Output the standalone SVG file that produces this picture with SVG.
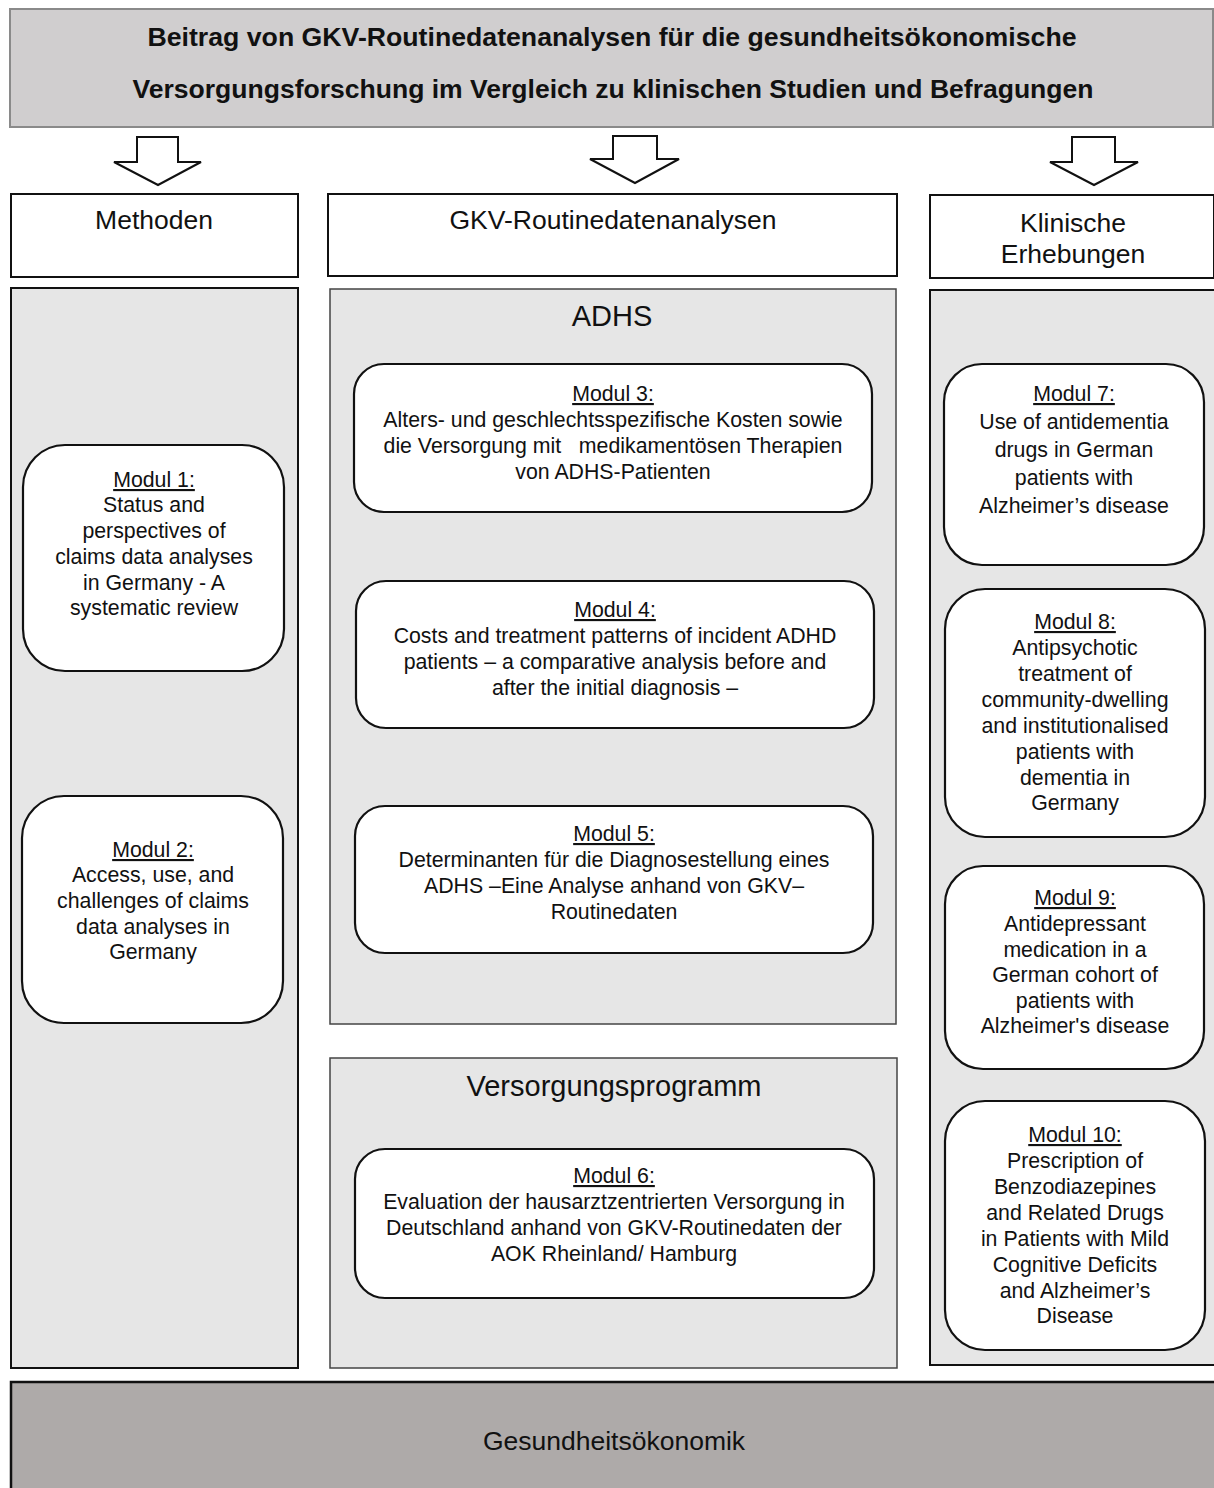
<svg xmlns="http://www.w3.org/2000/svg" width="1214" height="1488" viewBox="0 0 1214 1488">
<style>
text{font-family:"Liberation Sans",Arial,Helvetica,sans-serif;fill:#111;text-anchor:middle}
.title{font-size:25px;font-weight:bold}
.hdr{font-size:26.5px}
.sec{font-size:29px}
.mod{font-size:21.3px}
.u{text-decoration:underline}
.hbox{fill:#fff;stroke:#111;stroke-width:2}
.panel{fill:#e6e6e6;stroke:#111;stroke-width:2}
.panel2{fill:#e6e6e6;stroke:#444;stroke-width:1.5}
.card{fill:#fff;stroke:#111;stroke-width:2.2}
.arrow{fill:#fff;stroke:#111;stroke-width:2}
</style>
<rect width="1214" height="1488" fill="#fff"/>
<g id="title">
<rect x="10" y="9" width="1203" height="118" fill="#d0cecf" stroke="#8a8a8a" stroke-width="2"/>
<text class="title" x="612" y="46" textLength="929" lengthAdjust="spacingAndGlyphs">Beitrag von GKV-Routinedatenanalysen für die gesundheitsökonomische</text>
<text class="title" x="613" y="98" textLength="961" lengthAdjust="spacingAndGlyphs">Versorgungsforschung im Vergleich zu klinischen Studien und Befragungen</text>
</g>
<g id="connectors">
<polygon class="arrow" points="137,137 178,137 178,162 201,162 158,185 114,162 137,162"/>
<polygon class="arrow" points="613,136 657,136 657,159 679,159 635,183 590,159 613,159"/>
<polygon class="arrow" points="1072,137 1115,137 1115,162 1138,162 1094,185 1050,162 1072,162"/>
</g>
<g id="hdr-methoden">
<rect class="hbox" x="11" y="194" width="287" height="83"/>
<text class="hdr" x="154" y="229">Methoden</text>
</g>
<g id="hdr-gkv">
<rect class="hbox" x="328" y="194" width="569" height="82"/>
<text class="hdr" x="613" y="229">GKV-Routinedatenanalysen</text>
</g>
<g id="hdr-klinisch">
<rect class="hbox" x="930" y="195" width="284" height="83"/>
<text class="hdr" x="1073" y="232">Klinische</text>
<text class="hdr" x="1073" y="263">Erhebungen</text>
</g>
<g id="panel-methoden">
<rect class="panel" x="11" y="288" width="287" height="1080"/>
</g>
<g id="panel-adhs">
<rect class="panel2" x="330" y="289" width="566" height="735"/>
<text class="sec" x="612" y="326">ADHS</text>
</g>
<g id="panel-versorgung">
<rect class="panel2" x="330" y="1058" width="567" height="310"/>
<text class="sec" x="614" y="1096">Versorgungsprogramm</text>
</g>
<g id="panel-klinisch">
<rect class="panel" x="930" y="290" width="285" height="1075"/>
</g>
<g id="modul1">
<rect class="card" x="23" y="445" width="261" height="226" rx="42"/>
<text class="mod" x="154" y="487"><tspan class="u">Modul 1:</tspan></text>
<text class="mod" x="154" y="512">Status and</text>
<text class="mod" x="154" y="538">perspectives of</text>
<text class="mod" x="154" y="564">claims data analyses</text>
<text class="mod" x="154" y="590">in Germany - A</text>
<text class="mod" x="154" y="615">systematic review</text>
</g>
<g id="modul2">
<rect class="card" x="22" y="796" width="261" height="227" rx="42"/>
<text class="mod" x="153" y="857"><tspan class="u">Modul 2:</tspan></text>
<text class="mod" x="153" y="882">Access, use, and</text>
<text class="mod" x="153" y="908">challenges of claims</text>
<text class="mod" x="153" y="934">data analyses in</text>
<text class="mod" x="153" y="959">Germany</text>
</g>
<g id="modul3">
<rect class="card" x="354" y="364" width="518" height="148" rx="30"/>
<text class="mod" x="613" y="401"><tspan class="u">Modul 3:</tspan></text>
<text class="mod" x="613" y="427" xml:space="preserve">Alters- und geschlechtsspezifische Kosten sowie</text>
<text class="mod" x="613" y="453" xml:space="preserve">die Versorgung mit   medikamentösen Therapien</text>
<text class="mod" x="613" y="479">von ADHS-Patienten</text>
</g>
<g id="modul4">
<rect class="card" x="356" y="581" width="518" height="147" rx="30"/>
<text class="mod" x="615" y="617"><tspan class="u">Modul 4:</tspan></text>
<text class="mod" x="615" y="643">Costs and treatment patterns of incident ADHD</text>
<text class="mod" x="615" y="669">patients – a comparative analysis before and</text>
<text class="mod" x="615" y="695">after the initial diagnosis –</text>
</g>
<g id="modul5">
<rect class="card" x="355" y="806" width="518" height="147" rx="30"/>
<text class="mod" x="614" y="841"><tspan class="u">Modul 5:</tspan></text>
<text class="mod" x="614" y="867">Determinanten für die Diagnosestellung eines</text>
<text class="mod" x="614" y="893">ADHS –Eine Analyse anhand von GKV–</text>
<text class="mod" x="614" y="919">Routinedaten</text>
</g>
<g id="modul6">
<rect class="card" x="355" y="1149" width="519" height="149" rx="30"/>
<text class="mod" x="614" y="1183"><tspan class="u">Modul 6:</tspan></text>
<text class="mod" x="614" y="1209">Evaluation der hausarztzentrierten Versorgung in</text>
<text class="mod" x="614" y="1235">Deutschland anhand von GKV-Routinedaten der</text>
<text class="mod" x="614" y="1261">AOK Rheinland/ Hamburg</text>
</g>
<g id="modul7">
<rect class="card" x="944" y="364" width="260" height="201" rx="38"/>
<text class="mod" x="1074" y="401"><tspan class="u">Modul 7:</tspan></text>
<text class="mod" x="1074" y="429">Use of antidementia</text>
<text class="mod" x="1074" y="457">drugs in German</text>
<text class="mod" x="1074" y="485">patients with</text>
<text class="mod" x="1074" y="513">Alzheimer’s disease</text>
</g>
<g id="modul8">
<rect class="card" x="945" y="589" width="260" height="248" rx="40"/>
<text class="mod" x="1075" y="629"><tspan class="u">Modul 8:</tspan></text>
<text class="mod" x="1075" y="655">Antipsychotic</text>
<text class="mod" x="1075" y="681">treatment of</text>
<text class="mod" x="1075" y="707">community-dwelling</text>
<text class="mod" x="1075" y="733">and institutionalised</text>
<text class="mod" x="1075" y="759">patients with</text>
<text class="mod" x="1075" y="785">dementia in</text>
<text class="mod" x="1075" y="810">Germany</text>
</g>
<g id="modul9">
<rect class="card" x="945" y="866" width="259" height="203" rx="38"/>
<text class="mod" x="1075" y="905"><tspan class="u">Modul 9:</tspan></text>
<text class="mod" x="1075" y="931">Antidepressant</text>
<text class="mod" x="1075" y="957">medication in a</text>
<text class="mod" x="1075" y="982">German cohort of</text>
<text class="mod" x="1075" y="1008">patients with</text>
<text class="mod" x="1075" y="1033">Alzheimer's disease</text>
</g>
<g id="modul10">
<rect class="card" x="945" y="1101" width="260" height="249" rx="40"/>
<text class="mod" x="1075" y="1142"><tspan class="u">Modul 10:</tspan></text>
<text class="mod" x="1075" y="1168">Prescription of</text>
<text class="mod" x="1075" y="1194">Benzodiazepines</text>
<text class="mod" x="1075" y="1220">and Related Drugs</text>
<text class="mod" x="1075" y="1246">in Patients with Mild</text>
<text class="mod" x="1075" y="1272">Cognitive Deficits</text>
<text class="mod" x="1075" y="1298">and Alzheimer’s</text>
<text class="mod" x="1075" y="1323">Disease</text>
</g>
<g id="footer">
<rect x="11" y="1382" width="1210" height="120" fill="#aeaaa9" stroke="#111" stroke-width="2.5"/>
<text class="hdr" x="614" y="1450">Gesundheitsökonomik</text>
</g>
</svg>
